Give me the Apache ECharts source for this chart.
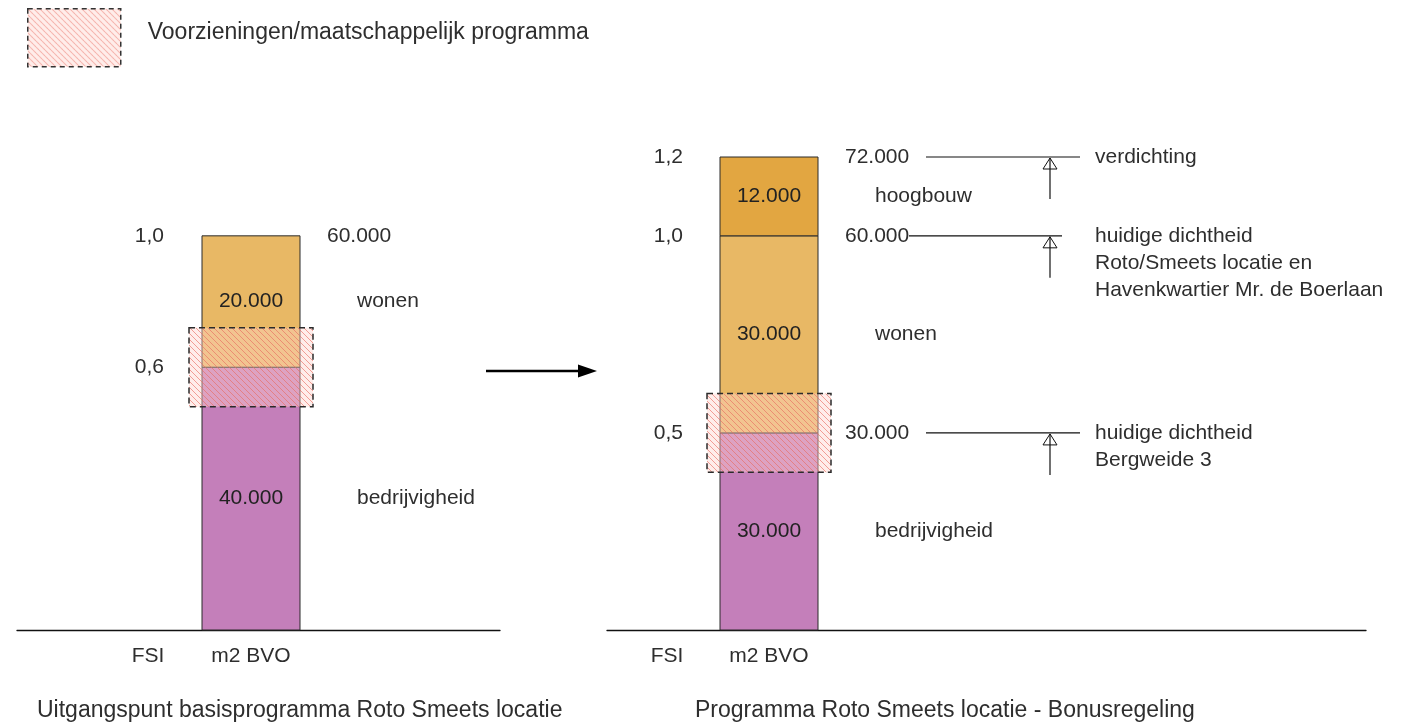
<!DOCTYPE html>
<html>
<head>
<meta charset="utf-8">
<script src="https://cdn.jsdelivr.net/npm/echarts@6/dist/echarts.min.js"></script>
<style>
html,body{margin:0;padding:0;background:#fff}
#main{width:1428px;height:727px}
</style>
</head>
<body>
<div id="main"></div>
<script>
// ---- data ----
var leftSegments = ['bedrijvigheid', 'wonen'];
var leftValues = [40000, 20000];
var leftFsiValues = [40000, 60000];
var leftFsiLabels = ['0,6', '1,0'];
var leftLevels = [60000];
var leftHatch = [34000, 46000];

var rightSegments = ['bedrijvigheid', 'wonen', 'hoogbouw'];
var rightValues = [30000, 30000, 12000];
var rightFsiValues = [30000, 60000, 72000];
var rightFsiLabels = ['0,5', '1,0', '1,2'];
var rightLevels = [30000, 60000, 72000];
var rightNotes = [
	'huidige dichtheid\nBergweide 3',
	'huidige dichtheid\nRoto/Smeets locatie en\nHavenkwartier Mr. de Boerlaan',
	'verdichting'
];
var rightHatch = [24000, 36000];

var xLabels = ['FSI', 'm2 BVO'];
var titles = ['Uitgangspunt basisprogramma Roto Smeets locatie', 'Programma Roto Smeets locatie - Bonusregeling'];
var hatchName = 'Voorzieningen/maatschappelijk programma';

// ---- style ----
var FONT = "'Liberation Sans', Arial, sans-serif";
var TXT = '#2e2e2e';
var BAR_W = 98;
var segColors = { bedrijvigheid: '#c47fba', wonen: '#e8b865', hoogbouw: '#e2a641' };

function fmt(n) {
	return String(Math.round(n)).replace(/\B(?=(\d{3})+(?!\d))/g, '.');
}

// hatch pattern: pale pink with thin red diagonal stripes
function makeHatch() {
	var s = 6;
	var c = document.createElement('canvas');
	c.width = s; c.height = s;
	var ctx = c.getContext('2d');
	ctx.fillStyle = 'rgba(255,212,205,0.42)';
	ctx.fillRect(0, 0, s, s);
	ctx.strokeStyle = 'rgba(232,105,95,0.68)';
	ctx.lineWidth = 0.9;
	ctx.beginPath();
	ctx.moveTo(0, 0); ctx.lineTo(s, s);
	ctx.moveTo(-1, s - 1); ctx.lineTo(1, s + 1);
	ctx.moveTo(s - 1, -1); ctx.lineTo(s + 1, 1);
	ctx.stroke();
	return { image: c, repeat: 'repeat' };
}
var hatchPattern = makeHatch();

var panels = [
	{ left: 17, width: 483, fsiX: 131, barX: 234, fsiAxisX: 172,
	  segments: leftSegments, values: leftValues, fsiValues: leftFsiValues, fsiLabels: leftFsiLabels,
	  levels: leftLevels, notes: null, hatch: leftHatch, lines: null },
	{ left: 607, width: 759, fsiX: 60, barX: 162, fsiAxisX: 691,
	  segments: rightSegments, values: rightValues, fsiValues: rightFsiValues, fsiLabels: rightFsiLabels,
	  levels: rightLevels, notes: rightNotes, hatch: rightHatch,
	  lines: [[108, 262], [91, 244], [108, 262]] }
];

var option = {
	animation: false,
	backgroundColor: '#fff',
	title: [
		{ text: titles[0], left: 37, top: 699, padding: 0,
		  textStyle: { fontSize: 23, fontWeight: 'normal', color: TXT, fontFamily: FONT } },
		{ text: titles[1], left: 695, top: 699, padding: 0,
		  textStyle: { fontSize: 23, fontWeight: 'normal', color: TXT, fontFamily: FONT } }
	],
	legend: {
		data: [hatchName],
		left: 27, top: 8, padding: 0,
		itemWidth: 93, itemHeight: 58,
		icon: 'rect',
		selectedMode: false,
		itemStyle: { color: hatchPattern, borderColor: '#333', borderWidth: 1.5, borderType: [5, 4] },
		formatter: function (name) { return '{t|' + name + '}'; },
		textStyle: {
			fontSize: 23, color: TXT, fontFamily: FONT, padding: [0, 0, 0, 22],
			rich: { t: { fontSize: 23, color: TXT, fontFamily: FONT, padding: [0, 0, 10, 0] } }
		}
	},
	grid: [],
	xAxis: [],
	yAxis: [],
	series: [],
	graphic: [
		{ type: 'line', shape: { x1: 486, y1: 371, x2: 582, y2: 371 }, style: { stroke: '#000', lineWidth: 2.5 } },
		{ type: 'polygon', shape: { points: [[578, 364.5], [597, 371], [578, 377.5]] }, style: { fill: '#000' } }
	]
};

panels.forEach(function (p, i) {
	option.grid.push({ left: p.left, width: p.width, top: 157, height: 473, outerBoundsMode: 'none' });

	option.xAxis.push({
		gridIndex: i, type: 'value', min: 0, max: p.width,
		axisLine: { show: true, onZero: false, lineStyle: { color: '#111', width: 1.3 } },
		axisTick: { show: false },
		splitLine: { show: false },
		axisLabel: {
			customValues: [p.fsiX, p.barX],
			formatter: function (v) { return v === p.fsiX ? xLabels[0] : xLabels[1]; },
			margin: 16, fontSize: 21, color: TXT, fontFamily: FONT
		}
	});

	option.yAxis.push({
		gridIndex: i, type: 'value', min: 0, max: 72000,
		position: 'left', offset: p.left - p.fsiAxisX,
		axisLine: { show: false },
		axisTick: { show: false },
		splitLine: { show: false },
		axisLabel: {
			customValues: p.fsiValues,
			formatter: function (v) { return p.fsiLabels[p.fsiValues.indexOf(v)] || ''; },
			margin: 8, fontSize: 21, color: TXT, fontFamily: FONT
		}
	});

	// stacked segments
	var segData = [];
	var acc = 0;
	p.values.forEach(function (v) {
		segData.push([p.barX, acc, acc + v]);
		acc += v;
	});
	option.series.push({
		type: 'custom', name: 'segments' + i,
		xAxisIndex: i, yAxisIndex: i,
		encode: { x: 0, y: [1, 2] },
		z: 2,
		data: segData,
		renderItem: function (params, api) {
			var x = api.value(0), y0 = api.value(1), y1 = api.value(2);
			var p0 = api.coord([x, y0]), p1 = api.coord([x, y1]);
			var name = p.segments[params.dataIndex];
			var ym = (p0[1] + p1[1]) / 2;
			var xr = p0[0] + BAR_W / 2;
			return {
				type: 'group',
				children: [
					{ type: 'rect', shape: { x: p0[0] - BAR_W / 2, y: p1[1], width: BAR_W, height: p0[1] - p1[1] },
					  style: { fill: segColors[name], stroke: '#2b2b2b', lineWidth: 1 } },
					{ type: 'text', style: { text: fmt(y1 - y0), x: p0[0], y: ym, align: 'center', verticalAlign: 'middle',
					  fontSize: 21, fontFamily: FONT, fill: '#222' } },
					{ type: 'text', style: { text: name, x: xr + 57, y: ym, align: 'left', verticalAlign: 'middle',
					  fontSize: 21, fontFamily: FONT, fill: TXT } }
				]
			};
		}
	});

	// voorzieningen overlay
	option.series.push({
		type: 'custom', name: hatchName,
		xAxisIndex: i, yAxisIndex: i,
		encode: { x: 0, y: [1, 2] },
		z: 4,
		itemStyle: { color: hatchPattern, borderColor: '#333', borderWidth: 1.5, borderType: 'dashed' },
		data: [[p.barX, p.hatch[0], p.hatch[1]]],
		renderItem: function (params, api) {
			var p0 = api.coord([api.value(0), api.value(1)]);
			var p1 = api.coord([api.value(0), api.value(2)]);
			var w = BAR_W + 26;
			return {
				type: 'rect',
				shape: { x: p0[0] - w / 2, y: p1[1], width: w, height: p0[1] - p1[1] },
				style: { fill: hatchPattern, stroke: '#2b2b2b', lineWidth: 1.5, lineDash: [6, 4] }
			};
		}
	});

	// level labels, lines, arrows and notes
	option.series.push({
		type: 'custom', name: 'levels' + i,
		xAxisIndex: i, yAxisIndex: i,
		encode: { x: 0, y: 1 },
		z: 5,
		data: p.levels.map(function (l) { return [p.barX, l]; }),
		renderItem: function (params, api) {
			var level = api.value(1);
			var pt = api.coord([api.value(0), level]);
			var y = pt[1];
			var xr = pt[0] + BAR_W / 2;
			var ch = [
				{ type: 'text', style: { text: fmt(level), x: xr + 27, y: y, align: 'left', verticalAlign: 'middle',
				  fontSize: 21, fontFamily: FONT, fill: TXT } }
			];
			if (p.notes) {
				var ln = p.lines[params.dataIndex];
				var ax = xr + 232;
				ch.push({ type: 'line', shape: { x1: xr + ln[0], y1: y, x2: xr + ln[1], y2: y },
					style: { stroke: '#111', lineWidth: 1.2 } });
				ch.push({ type: 'line', shape: { x1: ax, y1: y + 42, x2: ax, y2: y + 1 },
					style: { stroke: '#111', lineWidth: 1.2 } });
				ch.push({ type: 'polygon', shape: { points: [[ax - 7, y + 12], [ax, y + 1], [ax + 7, y + 12]] },
					style: { fill: 'none', stroke: '#111', lineWidth: 1 } });
				ch.push({ type: 'text', style: { text: p.notes[params.dataIndex], x: xr + 277, y: y - 13.5,
					align: 'left', verticalAlign: 'top', lineHeight: 27,
					fontSize: 21, fontFamily: FONT, fill: TXT } });
			}
			return { type: 'group', children: ch };
		}
	});
});

var myChart = echarts.init(document.getElementById('main'), null, { renderer: 'canvas' });
myChart.setOption(option);
</script>
</body>
</html>
